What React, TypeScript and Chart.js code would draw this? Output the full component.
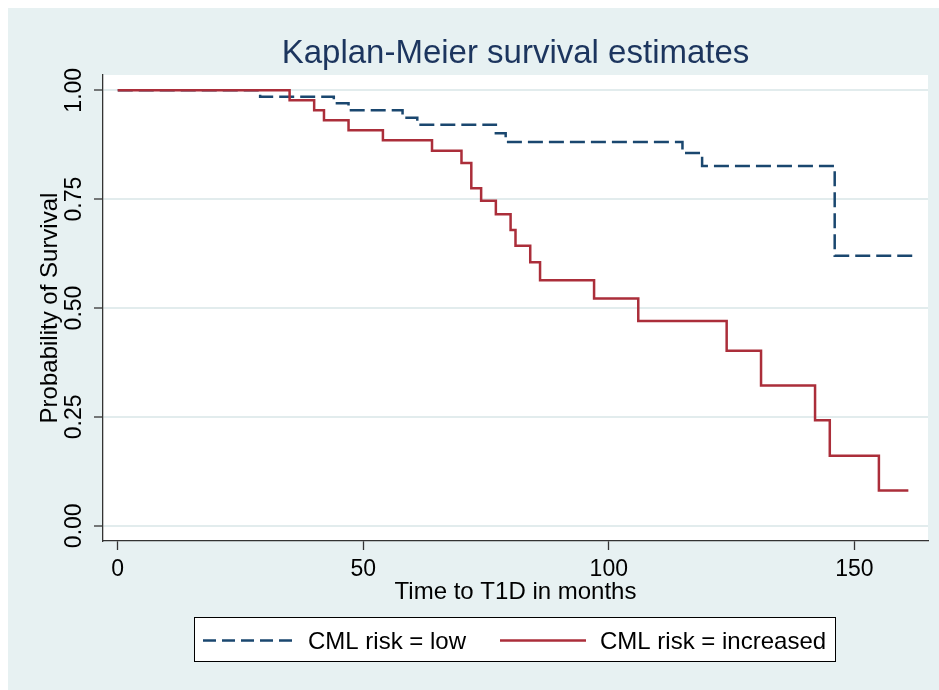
import React, { useEffect, useRef } from 'react';
import { Chart, registerables } from 'chart.js';

Chart.register(...registerables);

// ---- data ----
const lowTimes = [0, 29, 44, 47, 58, 61, 77, 79, 115, 119, 146, 162];
const lowSurv = [1, 0.985, 0.97, 0.954, 0.937, 0.921, 0.901, 0.881, 0.856, 0.826, 0.62, 0.62];
const incTimes = [0, 35, 40, 42, 47, 54, 64, 70, 72, 74, 77, 80, 81, 84, 86, 97, 106, 124, 131, 142, 145, 155, 161];
const incSurv = [1, 0.977, 0.954, 0.931, 0.908, 0.885, 0.861, 0.833, 0.775, 0.746, 0.715, 0.679, 0.643, 0.605, 0.564, 0.522, 0.47, 0.402, 0.322, 0.242, 0.161, 0.081, 0.081];
const xTicks = [0, 50, 100, 150];
const yTicks = [0, 0.25, 0.5, 0.75, 1];
const seriesLabels = ['CML risk = low', 'CML risk = increased'];
const titleText = 'Kaplan-Meier survival estimates';
const xTitle = 'Time to T1D in months';
const yTitle = 'Probability of Survival';

const FONT = '"Liberation Sans", Arial, sans-serif';
const BLUE = '#1a476f';
const RED = '#ab2e3a';
const NAVY = '#1c355e';
const OUTER_BG = '#e7f1f2';
const GRID = '#e2eced';
const AXIS = '#333333';
const BLUE_DASH = [15, 6];

const bgPlugin = {
  id: 'bgPlugin',
  beforeDraw(chart: any) {
    const { ctx, chartArea } = chart;
    ctx.save();
    ctx.fillStyle = '#ffffff';
    ctx.fillRect(0, 0, chart.width, chart.height);
    ctx.fillStyle = OUTER_BG;
    ctx.fillRect(8, 8, chart.width - 8, chart.height - 8);
    ctx.fillStyle = '#ffffff';
    ctx.fillRect(chartArea.left, chartArea.top, chartArea.right - chartArea.left, chartArea.bottom - chartArea.top);
    ctx.restore();
  },
};

const legendPlugin = {
  id: 'boxLegend',
  afterDraw(chart: any) {
    const { ctx } = chart;
    ctx.save();
    const bx = 194.5, by = 617.5, bw = 641, bh = 44;
    ctx.fillStyle = '#ffffff';
    ctx.fillRect(bx, by, bw, bh);
    ctx.strokeStyle = '#000000';
    ctx.lineWidth = 1;
    ctx.strokeRect(bx, by, bw, bh);
    const cy = by + bh / 2 + 1;
    ctx.lineWidth = 2.5;
    // low
    ctx.strokeStyle = BLUE;
    ctx.setLineDash([13, 6]);
    ctx.beginPath();
    ctx.moveTo(203, cy);
    ctx.lineTo(293, cy);
    ctx.stroke();
    // increased
    ctx.setLineDash([]);
    ctx.strokeStyle = RED;
    ctx.beginPath();
    ctx.moveTo(500, cy);
    ctx.lineTo(586, cy);
    ctx.stroke();
    ctx.fillStyle = '#000000';
    ctx.font = `24px ${FONT}`;
    ctx.textBaseline = 'middle';
    ctx.textAlign = 'left';
    ctx.fillText(seriesLabels[0], 308, cy + 2);
    ctx.fillText(seriesLabels[1], 600, cy + 2);
    ctx.restore();
  },
};

export default function App() {
  const ref = useRef<HTMLCanvasElement | null>(null);

  useEffect(() => {
    if (!ref.current) return;
    const lowData = lowTimes.map((t, i) => ({ x: t, y: lowSurv[i] }));
    const incData = incTimes.map((t, i) => ({ x: t, y: incSurv[i] }));
    const chart = new Chart(ref.current, {
      type: 'line',
      data: {
        datasets: [
          {
            label: seriesLabels[0],
            data: lowData,
            borderColor: BLUE,
            borderWidth: 2.5,
            borderDash: BLUE_DASH,
            stepped: 'before',
            pointRadius: 0,
            fill: false,
            order: 2,
          },
          {
            label: seriesLabels[1],
            data: incData,
            borderColor: RED,
            borderWidth: 2.5,
            stepped: 'before',
            pointRadius: 0,
            fill: false,
            order: 1,
          },
        ],
      },
      options: {
        responsive: false,
        animation: false,
        devicePixelRatio: 1,
        layout: { padding: { left: 8, right: 11, top: 8, bottom: 0 } },
        plugins: {
          legend: { display: false },
          tooltip: { enabled: false },
          title: {
            display: true,
            fullSize: false,
            text: titleText,
            color: NAVY,
            font: { family: FONT, size: 33, weight: 'normal', lineHeight: 1.2 },
            padding: { top: 26.2, bottom: 1.2 },
          },
        },
        scales: {
          x: {
            type: 'linear',
            min: -3,
            max: 165,
            afterBuildTicks: (s: any) => {
              s.ticks = xTicks.map((v) => ({ value: v }));
            },
            afterFit: (s: any) => {
              s.height = 149;
            },
            grid: {
              display: true,
              drawOnChartArea: false,
              drawTicks: true,
              tickLength: 9,
              tickColor: AXIS,
              tickWidth: 1.3,
            },
            border: { display: true, color: AXIS, width: 1.3 },
            ticks: {
              color: '#000000',
              font: { family: FONT, size: 23 },
              padding: 6,
              minRotation: 0,
              maxRotation: 0,
              autoSkip: false,
              callback: (v: any) => String(v),
            },
            title: {
              display: true,
              text: xTitle,
              color: '#000000',
              font: { family: FONT, size: 24, lineHeight: 1.2 },
              padding: { top: 0, bottom: 83.6 },
            },
          },
          y: {
            type: 'linear',
            min: -0.035,
            max: 1.035,
            afterBuildTicks: (s: any) => {
              s.ticks = yTicks.map((v) => ({ value: v }));
            },
            afterFit: (s: any) => {
              s.width = 95;
            },
            grid: {
              display: true,
              color: GRID,
              lineWidth: 2,
              drawTicks: true,
              tickLength: 9,
              tickColor: AXIS,
              tickWidth: 1.3,
            },
            border: { display: true, color: AXIS, width: 1.3 },
            ticks: {
              color: '#000000',
              font: { family: FONT, size: 23 },
              minRotation: 90,
              maxRotation: 90,
              crossAlign: 'center',
              padding: -3,
              autoSkip: false,
              callback: (v: any) => Number(v).toFixed(2),
            },
            title: {
              display: true,
              text: yTitle,
              color: '#000000',
              font: { family: FONT, size: 24, lineHeight: 1.2 },
              padding: { top: 28, bottom: 0 },
            },
          },
        },
      },
      plugins: [bgPlugin, legendPlugin],
    } as any);
    return () => chart.destroy();
  }, []);

  return (
    <div style={{ position: 'fixed', left: 0, top: 0, width: 939, height: 690, background: '#ffffff' }}>
      <canvas ref={ref} width={939} height={690} style={{ display: 'block', width: 939, height: 690 }} />
    </div>
  );
}
